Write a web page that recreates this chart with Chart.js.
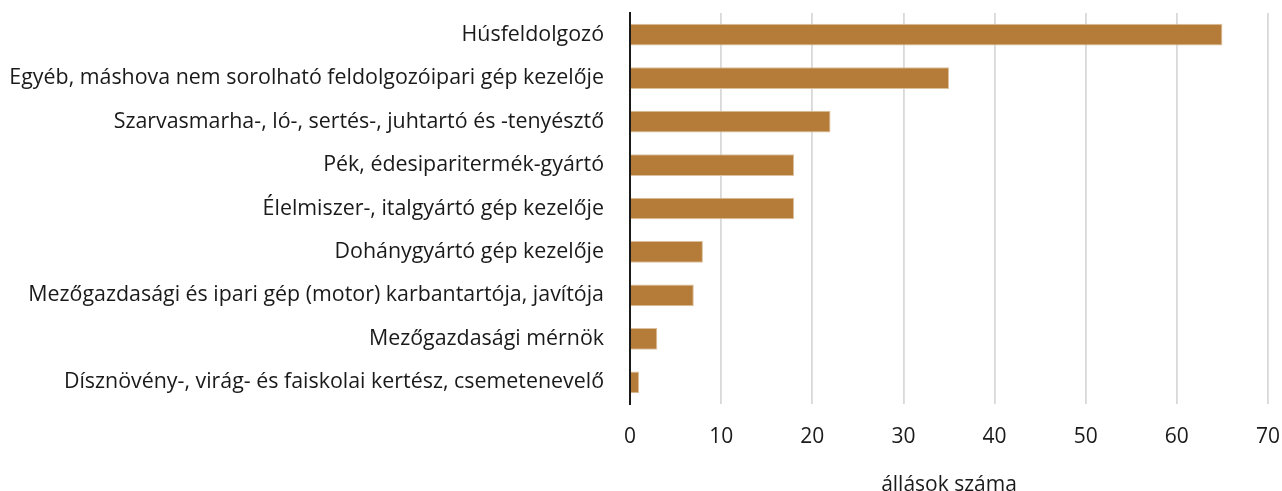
<!DOCTYPE html>
<html>
<head>
<meta charset="utf-8">
<script src="https://cdn.jsdelivr.net/npm/chart.js@4"></script>
<style>
  html, body { margin: 0; padding: 0; background: #fff; }
  #wrap { width: 1282px; height: 491px; }
</style>
</head>
<body>
<div id="wrap"><canvas id="myChart"></canvas></div>
<script>
const categories = [
  'Húsfeldolgozó',
  'Egyéb, máshova nem sorolható feldolgozóipari gép kezelője',
  'Szarvasmarha-, ló-, sertés-, juhtartó és -tenyésztő',
  'Pék, édesiparitermék-gyártó',
  'Élelmiszer-, italgyártó gép kezelője',
  'Dohánygyártó gép kezelője',
  'Mezőgazdasági és ipari gép (motor) karbantartója, javítója',
  'Mezőgazdasági mérnök',
  'Dísznövény-, virág- és faiskolai kertész, csemetenevelő'
];
const jobs = [65, 35, 22, 18, 18, 8, 7, 3, 1];
const xTicks = [0, 10, 20, 30, 40, 50, 60, 70];
const xTitle = 'állások száma';

const font = "'Open Sans', 'Noto Sans', sans-serif";
Chart.defaults.font.family = font;
Chart.defaults.color = '#1a1a1a';

const ctx = document.getElementById('myChart');

new Chart(ctx, {
  type: 'bar',
  data: {
    labels: categories,
    datasets: [{
      label: xTitle,
      data: jobs,
      backgroundColor: '#b47b39',
      borderColor: '#dcc09c',
      borderWidth: 1,
      barPercentage: 0.5,
      categoryPercentage: 1
    }]
  },
  options: {
    indexAxis: 'y',
    responsive: true,
    maintainAspectRatio: false,
    animation: false,
    layout: { padding: { top: 13, right: 0, left: 0, bottom: 0 } },
    plugins: {
      legend: { display: false },
      tooltip: { enabled: false }
    },
    scales: {
      x: {
        min: xTicks[0],
        max: xTicks[xTicks.length - 1],
        afterBuildTicks: (s) => { s.ticks = xTicks.map(v => ({ value: v })); },
        afterFit: (s) => {
          s.height = 87;
          s.paddingLeft = 0;
          s.paddingRight = 14;
        },
        grid: { color: '#d9d9d9', lineWidth: 1.8, drawTicks: false },
        border: { display: false },
        ticks: { padding: 20, font: { size: 21 }, color: '#1a1a1a' },
        title: {
          display: true,
          text: xTitle,
          font: { size: 21, lineHeight: 1 },
          color: '#1a1a1a',
          padding: { top: 0, bottom: -5 }
        }
      },
      y: {
        afterFit: (s) => {
          s.width = 630;
          s.paddingTop = 0;
          s.paddingBottom = 0;
        },
        grid: { display: false },
        border: { display: true, color: '#1a1a1a', width: 2 },
        ticks: { padding: 18, font: { size: 21.4 }, color: '#1a1a1a' }
      }
    }
  }
});
</script>
</body>
</html>
